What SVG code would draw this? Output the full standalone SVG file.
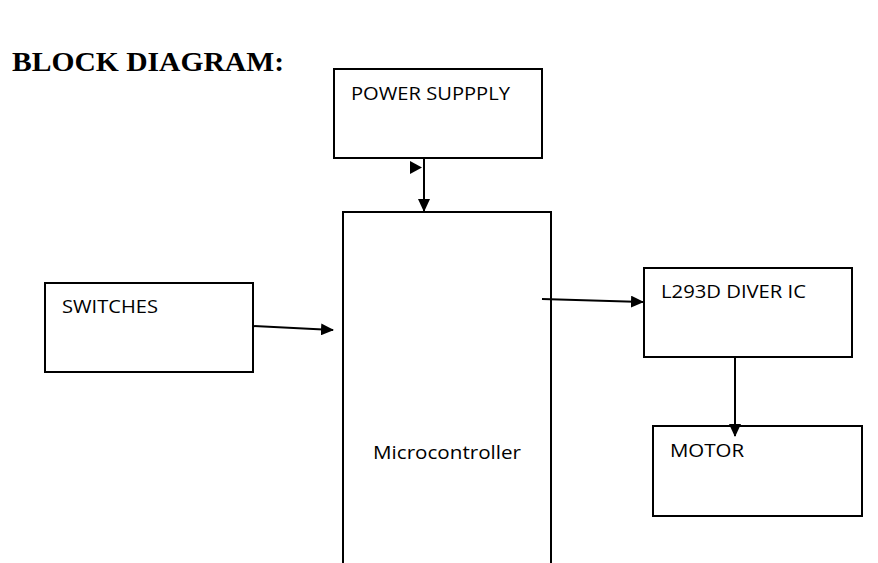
<svg xmlns="http://www.w3.org/2000/svg" width="878" height="563" viewBox="0 0 878 563">
<style>
.box{fill:#fff;stroke:#000;stroke-width:2}
.lbl{font-family:"Open Sans","Liberation Sans",sans-serif;font-size:19px;fill:#000}
.title{font-family:"Liberation Serif","Times New Roman",serif;font-size:28px;font-weight:bold;fill:#000}
.conn{stroke:#000;stroke-width:2;fill:none}
</style>
<defs>
<marker id="arr" markerWidth="13" markerHeight="12" refX="12" refY="6" orient="auto" markerUnits="userSpaceOnUse" viewBox="0 0 13 12">
<path d="M0,0 L13,6 L0,12 z" fill="#000"/>
</marker>
</defs>
<rect width="878" height="563" fill="#fff"/>
<text class="title" x="12" y="71" textLength="272" lengthAdjust="spacingAndGlyphs">BLOCK DIAGRAM:</text>
<g id="power">
<rect class="box" x="334" y="69" width="208" height="89"/>
<text class="lbl" x="351" y="100" textLength="159" lengthAdjust="spacingAndGlyphs">POWER SUPPPLY</text>
</g>
<g id="micro">
<rect class="box" x="343" y="212" width="208" height="360"/>
<text class="lbl" x="373" y="459" textLength="148" lengthAdjust="spacingAndGlyphs">Microcontroller</text>
</g>
<g id="switches">
<rect class="box" x="45" y="283" width="208" height="89"/>
<text class="lbl" x="62" y="313" textLength="96" lengthAdjust="spacingAndGlyphs">SWITCHES</text>
</g>
<g id="driver">
<rect class="box" x="644" y="268" width="208" height="89"/>
<text class="lbl" x="661" y="298" textLength="145" lengthAdjust="spacingAndGlyphs">L293D DIVER IC</text>
</g>
<g id="motor">
<rect class="box" x="653" y="426" width="209" height="90"/>
<text class="lbl" x="670" y="457" textLength="74" lengthAdjust="spacingAndGlyphs">MOTOR</text>
</g>
<g id="connectors">
<line class="conn" x1="424" y1="158" x2="424" y2="211" marker-end="url(#arr)"/>
<path d="M410,161 L422,167.5 L410,174 z" fill="#000"/>
<line class="conn" x1="253" y1="326" x2="333" y2="330" marker-end="url(#arr)"/>
<line class="conn" x1="542" y1="299" x2="643" y2="302" marker-end="url(#arr)"/>
<line class="conn" x1="735" y1="357" x2="735" y2="436" marker-end="url(#arr)"/>
</g>
</svg>
